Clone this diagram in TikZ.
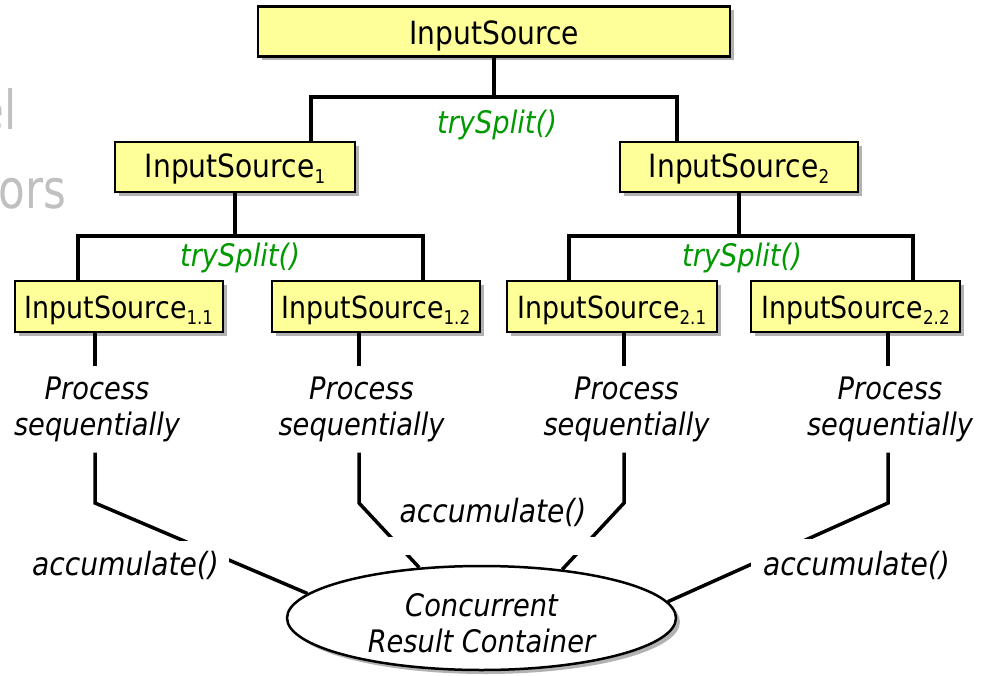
\documentclass[tikz,border=0pt]{standalone}
\usepackage{fontspec}
\setmainfont{DejaVu Sans}[FakeStretch=0.88]
\usetikzlibrary{shapes.geometric,shadows}
\definecolor{boxfill}{RGB}{255,255,153}
\definecolor{splitgreen}{RGB}{0,153,0}
\definecolor{ghost}{RGB}{192,192,192}
\newcommand{\subidx}[1]{\raisebox{-6pt}{\fontsize{19}{19}\selectfont #1}}
\begin{document}
\begin{tikzpicture}[x=1pt,y=-1pt,
  boxshadow/.style={drop shadow={shadow xshift=4pt,shadow yshift=-4pt,opacity=0.3,fill=black}},
  srcbox/.style={draw=black,line width=2.5pt,fill=boxfill,inner sep=0pt,
    minimum height=50pt,text depth=0pt,font=\fontsize{32}{36}\selectfont,boxshadow},
  leafbox/.style={srcbox,minimum height=51pt,text height=23pt,font=\fontsize{30.5}{34}\selectfont},
  conn/.style={line width=3.5pt,black},
  split/.style={text=splitgreen,font=\fontsize{31}{36}\selectfont\itshape,inner sep=0pt},
  proc/.style={align=center,font=\fontsize{31}{36}\selectfont\itshape,inner sep=10.5pt},
  acc/.style={fill=white,font=\fontsize{32}{36}\selectfont\itshape,inner sep=10pt},
  ghosttext/.style={text=ghost,font=\fontsize{54}{60}\selectfont,inner sep=0pt,xscale=0.92,transform shape}
]
\useasboundingbox (0,0) rectangle (981,676);

% ghost background title fragments
\node[ghosttext,anchor=base east] (g1) at (17,130) {el};
\node[ghosttext,anchor=base east] (g2) at (66,208) {ors};

% source boxes
\node[srcbox,minimum width=472pt,text height=27pt] (top) at (494,31.5) {InputSource};
\node[srcbox,minimum width=240pt,text height=22pt] (is1) at (235,167) {InputSource\subidx{1}};
\node[srcbox,minimum width=238pt,text height=22pt] (is2) at (739,167) {InputSource\subidx{2}};
\node[leafbox,minimum width=208pt] (is11) at (119,306.5) {InputSource\subidx{1.1}};
\node[leafbox,minimum width=208pt] (is12) at (376,306.5) {InputSource\subidx{1.2}};
\node[leafbox,minimum width=210pt] (is21) at (612,306.5) {InputSource\subidx{2.1}};
\node[leafbox,minimum width=209pt] (is22) at (855.5,306.5) {InputSource\subidx{2.2}};

% split labels
\node[split] (ts0) at (497,125) {trySplit()};
\node[split] (ts1) at (240,258) {trySplit()};
\node[split] (ts2) at (742,258) {trySplit()};

% process labels
\node[proc] (pr11) at (97,409.5) {Process\\sequentially};
\node[proc] (pr12) at (361.5,409.5) {Process\\sequentially};
\node[proc] (pr21) at (626.5,409.5) {Process\\sequentially};
\node[proc] (pr22) at (890,409.5) {Process\\sequentially};

% result container
\node[ellipse,draw=black,line width=2.5pt,fill=white,minimum width=389pt,minimum height=104pt,
  inner sep=0pt,font=\fontsize{31}{36}\selectfont\itshape,boxshadow] (ell) at (481.5,618)
  {\makebox[0pt]{\raisebox{-11.5pt}[0pt][0pt]{\parbox[c]{300pt}{\centering Concurrent\\Result Container}}}};

% split connectors
\coordinate (j0) at (494,97);
\coordinate (l1) at (311,97);
\coordinate (r1) at (677,97);
\draw[conn] (top.south) -- (j0);
\draw[conn] (is1.north -| l1) -- (l1) -- (r1) -- (is2.north -| r1);

\coordinate (l2) at (78,236);
\coordinate (r2) at (423,236);
\draw[conn] (is1.south) -- (is1.south |- l2);
\draw[conn] (is11.north -| l2) -- (l2) -- (r2) -- (is12.north -| r2);

\coordinate (l3) at (569,236);
\coordinate (r3) at (913,236);
\draw[conn] (is2.south) -- (is2.south |- l3);
\draw[conn] (is21.north -| l3) -- (l3) -- (r3) -- (is22.north -| r3);

% leaf to process connectors
\coordinate (k1) at (95,503);
\coordinate (k2) at (359,503);
\coordinate (k3) at (624,503);
\coordinate (k4) at (888,503);
\draw[conn] (is11.south -| k1) -- (pr11.north -| k1);
\draw[conn] (is12.south -| k2) -- (pr12.north -| k2);
\draw[conn] (is21.south -| k3) -- (pr21.north -| k3);
\draw[conn] (is22.south -| k4) -- (pr22.north -| k4);

% accumulate connectors
\draw[conn] (pr11.south -| k1) -- (k1) -- (ell.172.4);
\draw[conn] (pr12.south -| k2) -- (k2) -- (ell.141.8);
\draw[conn] (pr21.south -| k3) -- (k3) -- (ell.31.8);
\draw[conn] (pr22.south -| k4) -- (k4) -- (ell.5);

% white gap above the container
\fill[white] (379,537) rectangle (606,555);

% accumulate labels
\node[acc,anchor=base] (a1) at (125.5,575) {accumulate()};
\node[acc,anchor=base,inner sep=4pt,fill=none] (a2) at (493,522) {accumulate()};
\node[acc,anchor=base,inner sep=12pt] (a3) at (856.5,575) {accumulate()};
\end{tikzpicture}
\end{document}
